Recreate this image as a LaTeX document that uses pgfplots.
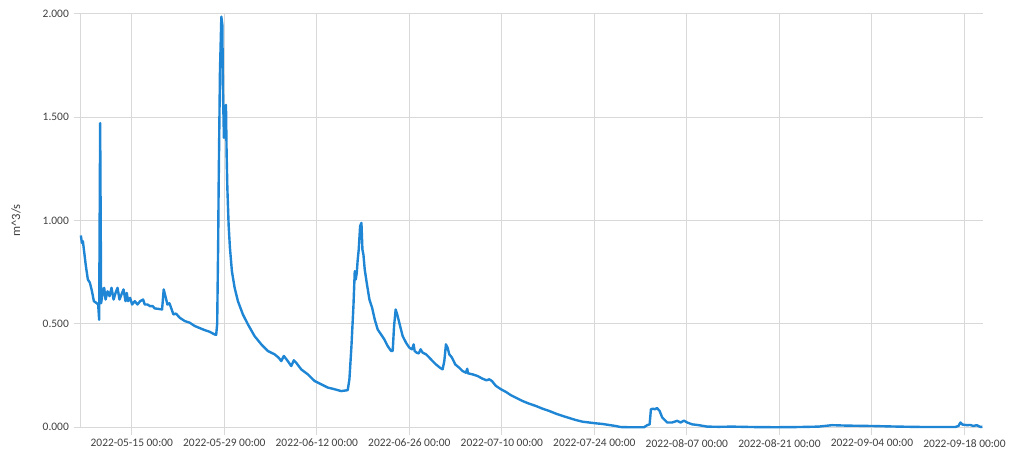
\documentclass[border=0pt]{standalone}
\usepackage{pgfplots}
\pgfplotsset{compat=1.18}
\usepackage{fontspec}
\setmainfont{Carlito}

\definecolor{flow}{RGB}{30,134,212}
\definecolor{gridgray}{RGB}{217,217,217}
\definecolor{labelgray}{RGB}{64,64,64}

% Discharge series; x = days after 2022-05-15 00:00, y = m^3/s
\pgfplotstableread{
d v
-7.71 0.928
-7.55 0.892
-7.40 0.900
-7.25 0.860
-6.95 0.780
-6.65 0.715
-6.35 0.700
-6.04 0.660
-5.74 0.610
-5.29 0.600
-5.09 0.594
-4.94 0.520
-4.79 1.472
-4.64 0.600
-4.49 0.634
-4.34 0.658
-4.18 0.675
-3.97 0.618
-3.67 0.658
-3.37 0.634
-3.07 0.675
-2.76 0.618
-2.46 0.650
-2.16 0.675
-1.86 0.618
-1.56 0.643
-1.25 0.667
-0.95 0.610
-0.76 0.650
-0.56 0.610
-0.26 0.626
0.05 0.594
0.45 0.610
0.86 0.594
1.25 0.610
1.71 0.618
1.96 0.594
2.37 0.594
2.76 0.586
3.17 0.586
3.47 0.575
3.97 0.573
4.58 0.570
4.83 0.667
5.09 0.634
5.39 0.594
5.70 0.600
6.00 0.573
6.30 0.546
6.69 0.550
7.25 0.530
8.01 0.514
8.76 0.506
9.52 0.490
10.27 0.480
11.03 0.470
11.78 0.462
12.54 0.449
12.77 0.447
12.92 0.500
13.07 0.890
13.14 1.160
13.34 1.720
13.55 1.987
13.70 1.947
13.79 1.640
13.94 1.400
14.10 1.545
14.25 1.560
14.35 1.320
14.46 1.158
14.65 0.980
14.85 0.868
15.15 0.755
15.56 0.675
16.06 0.610
16.81 0.546
17.57 0.498
18.58 0.441
19.60 0.401
20.59 0.369
21.60 0.353
22.21 0.337
22.62 0.320
23.01 0.345
23.61 0.320
24.13 0.296
24.52 0.324
24.88 0.312
25.64 0.280
26.64 0.256
27.65 0.224
28.66 0.208
29.66 0.192
30.67 0.184
31.68 0.175
32.59 0.179
32.68 0.180
32.93 0.232
33.24 0.393
33.54 0.586
33.74 0.755
33.89 0.715
34.04 0.747
34.19 0.812
34.34 0.860
34.55 0.973
34.75 0.989
34.90 0.860
35.05 0.836
35.25 0.763
35.55 0.699
35.96 0.618
36.37 0.578
36.76 0.522
37.21 0.473
37.72 0.449
38.22 0.425
38.72 0.393
39.24 0.369
39.48 0.369
39.69 0.490
39.93 0.570
40.23 0.538
40.60 0.490
40.99 0.441
41.50 0.409
42.00 0.385
42.41 0.377
42.65 0.401
42.80 0.369
43.10 0.361
43.41 0.357
43.71 0.377
44.01 0.361
44.52 0.353
45.02 0.337
45.52 0.320
46.03 0.304
46.64 0.288
47.03 0.280
47.29 0.320
47.54 0.401
47.79 0.385
48.04 0.353
48.45 0.337
48.95 0.304
49.55 0.288
50.05 0.272
50.57 0.264
50.76 0.283
50.87 0.261
51.56 0.256
52.32 0.248
53.07 0.235
53.68 0.227
54.09 0.232
54.49 0.224
55.10 0.200
55.85 0.184
56.61 0.171
57.37 0.155
58.12 0.143
59.12 0.127
60.13 0.114
61.14 0.103
62.14 0.090
63.15 0.079
64.16 0.066
65.16 0.055
66.17 0.045
67.18 0.035
68.18 0.027
69.19 0.023
70.20 0.019
71.20 0.016
72.21 0.011
73.22 0.006
73.98 0.001
75.24 0.000
77.50 0.000
78.00 0.010
78.36 0.014
78.56 0.087
78.86 0.090
79.16 0.087
79.47 0.093
79.87 0.079
80.27 0.047
81.02 0.023
81.78 0.023
82.53 0.031
83.05 0.023
83.55 0.032
84.05 0.023
84.80 0.014
85.81 0.010
87.07 0.003
88.83 0.002
90.85 0.003
93.87 0.001
97.40 0.000
100.92 0.001
103.94 0.003
105.95 0.010
107.98 0.008
111.99 0.006
116.03 0.003
120.06 0.001
124.59 0.001
125.09 0.006
125.40 0.023
125.70 0.013
126.35 0.010
126.86 0.011
127.36 0.006
127.86 0.010
128.37 0.002
128.72 0.002
}\flowdata

\begin{document}
\begin{tikzpicture}
\begin{axis}[
  name=ax,
  scale only axis,
  width=678pt, height=310.5pt,
  xmin=-7.71, xmax=128.85,
  ymin=0, ymax=2,
  xtick={0,14,...,126},
  xticklabels={2022-05-15 00:00,2022-05-29 00:00,2022-06-12 00:00,2022-06-26 00:00,2022-07-10 00:00,2022-07-24 00:00,2022-08-07 00:00,2022-08-21 00:00,2022-09-04 00:00,2022-09-18 00:00},
  ytick={0,0.5,1,1.5,2},
  yticklabel style={/pgf/number format/.cd, fixed, fixed zerofill, precision=3, assume math mode=true},
  ticklabel style={font=\fontsize{8.6}{10.5}\selectfont, text=labelgray},
  axis y line*=left,
  axis x line*=bottom,
  axis line style={draw=gridgray, line width=0.75pt},
  grid=major,
  major grid style={draw=gridgray, line width=0.75pt},
  tick align=outside,
  major tick length=5.5pt,
  tick style={draw=gridgray, line width=0.75pt},
  ylabel={m\textasciicircum 3/s},
  ylabel style={at={(axis description cs:-0.0719,0.5)}, anchor=center, font=\fontsize{9.5}{11}\selectfont, text=labelgray},
  clip=false,
]
\addplot[flow, line width=1.8pt, line join=round] table[x=d, y=v] {\flowdata};
\end{axis}
\path ([xshift=-60.75pt, yshift=-15.75pt]ax.south west) rectangle ([xshift=18.75pt, yshift=10.5pt]ax.north east);
\end{tikzpicture}
\end{document}
